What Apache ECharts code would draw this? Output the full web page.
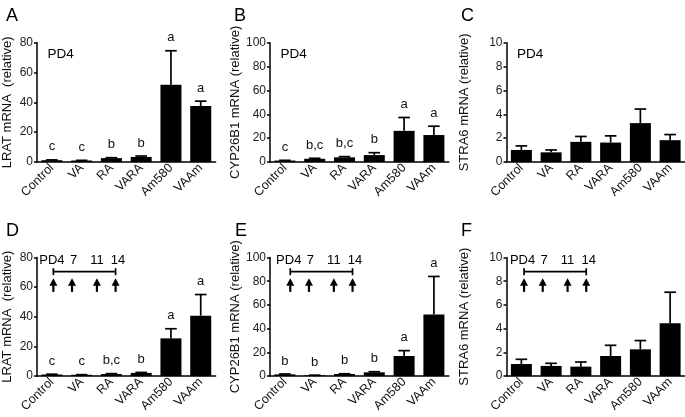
<!DOCTYPE html>
<html>
<head>
<meta charset="utf-8">
<script src="https://cdn.jsdelivr.net/npm/echarts@6/dist/echarts.min.js"></script>
<style>html,body{margin:0;padding:0;background:#fff}#c{width:685px;height:417px}</style>
</head>
<body>
<div id="c"></div>
<script>
const categories = ['Control', 'VA', 'RA', 'VARA', 'Am580', 'VAAm'];
const panelLabels = ['A', 'B', 'C', 'D', 'E', 'F'];
const yTitles = ['LRAT mRNA  (relative)', 'CYP26B1 mRNA (relative)', 'STRA6 mRNA (relative)',
                 'LRAT mRNA  (relative)', 'CYP26B1 mRNA (relative)', 'STRA6 mRNA (relative)'];
const yMax = [80, 100, 10, 80, 100, 10];
const yInterval = [20, 20, 2, 20, 20, 2];

const meanA = [1.2, 1.0, 2.6, 3.4, 51.8, 37.5];
const semA  = [0.2, 0.1, 0.3, 0.6, 22.8, 3.3];
const lettersA = ['c', 'c', 'b', 'b', 'a', 'a'];

const meanB = [1.2, 2.7, 3.9, 5.8, 26.1, 22.6];
const semB  = [0.2, 0.4, 0.6, 2.0, 11.2, 7.4];
const lettersB = ['c', 'b,c', 'b,c', 'b', 'a', 'a'];

const meanC = [1.01, 0.81, 1.69, 1.63, 3.26, 1.83];
const semC  = [0.34, 0.20, 0.45, 0.56, 1.18, 0.47];

const meanD = [1.0, 0.8, 1.3, 2.1, 25.4, 40.7];
const semD  = [0.2, 0.1, 0.3, 0.3, 6.5, 14.3];
const lettersD = ['c', 'c', 'b,c', 'b', 'a', 'a'];

const meanE = [1.4, 0.6, 1.7, 3.1, 16.9, 51.8];
const semE  = [0.3, 0.1, 0.2, 0.5, 4.5, 32.2];
const lettersE = ['b', 'b', 'b', 'b', 'a', 'a'];

const meanF = [1.01, 0.85, 0.79, 1.69, 2.25, 4.45];
const semF  = [0.40, 0.22, 0.39, 0.90, 0.74, 2.62];

const timeDays = [4, 7, 11, 14];
const timeLabels = ['PD4', '7', '11', '14'];
const topNote = 'PD4';

const panels = [
  {mean: meanA, sem: semA, letters: lettersA},
  {mean: meanB, sem: semB, letters: lettersB},
  {mean: meanC, sem: semC, letters: null},
  {mean: meanD, sem: semD, letters: lettersD},
  {mean: meanE, sem: semE, letters: lettersE},
  {mean: meanF, sem: semF, letters: null}
];

// layout
const FONT = "'Liberation Sans', Arial, Helvetica, sans-serif";
const gridLefts = [36.8, 270, 506.5];
const gridTops = [42.7, 257.5];
const gridHeights = [119.3, 118.5];
const gridWidth = 178.8;
const nameGaps = [23, 28, 36, 23, 28, 36];
const titlePos = [[1, 2], [229, 2], [456, 2], [1, 217], [230, 217], [456, 217]];
const timelineStart = [0.55, 0.68, 0.59];
const dayStep = 0.209;
const timeLabelShift = [-1.5, 1.5, 0, 2.5];

const chart = echarts.init(document.getElementById('c'), null, {renderer: 'canvas'});

const grids = [], xAxes = [], yAxes = [], series = [], titles = [];

panels.forEach((p, i) => {
  const col = i % 3, row = Math.floor(i / 3);
  grids.push({left: gridLefts[col], top: gridTops[row], width: gridWidth, height: gridHeights[row], containLabel: false});
  titles.push({text: panelLabels[i], left: titlePos[i][0], top: titlePos[i][1],
    textStyle: {fontFamily: FONT, fontSize: 18, fontWeight: 'normal', color: '#000'}});
  yAxes.push({
    type: 'value', gridIndex: i, min: 0, max: yMax[i], interval: yInterval[i],
    name: yTitles[i], nameLocation: 'middle', nameGap: nameGaps[i],
    nameTextStyle: {fontFamily: FONT, fontSize: 13, color: '#111'},
    axisLine: {show: true, lineStyle: {color: '#000', width: 1.5}},
    axisTick: {show: true, length: 3, lineStyle: {color: '#000', width: 1.5}},
    axisLabel: {fontFamily: FONT, fontSize: 12, color: '#222', margin: 4},
    splitLine: {show: false}
  });
});
panels.forEach((p, i) => {
  xAxes.push({
    type: 'category', gridIndex: i, data: categories,
    axisLine: {show: true, lineStyle: {color: '#000', width: 1.5}},
    axisTick: {show: false},
    axisLabel: {fontFamily: FONT, fontSize: 12.5, color: '#111', rotate: 45, margin: 4, interval: 0}
  });
});
panels.forEach((p, i) => {
  xAxes.push({type: 'value', gridIndex: i, min: 0, max: 6, show: false});
});

function errRender(letters) {
  return function (params, api) {
    const idx = api.value(0), mean = api.value(1), top = api.value(2);
    const pTop = api.coord([idx, top]);
    const pBase = api.coord([idx, mean]);
    const children = [];
    if (top > mean) {
      children.push({type: 'line', shape: {x1: pBase[0], y1: pBase[1], x2: pTop[0], y2: pTop[1]},
        style: {stroke: '#000', lineWidth: 1.7}});
      children.push({type: 'line', shape: {x1: pTop[0] - 5.8, y1: pTop[1], x2: pTop[0] + 5.8, y2: pTop[1]},
        style: {stroke: '#000', lineWidth: 1.7}});
    }
    if (letters) {
      children.push({type: 'text', x: pTop[0], y: pTop[1] - 13,
        style: {text: letters[params.dataIndex], fill: '#111', font: '13px ' + FONT, align: 'center', verticalAlign: 'middle'}});
    }
    return {type: 'group', children: children};
  };
}

function topNoteRender(ymax) {
  return function (params, api) {
    const pt = api.coord([0.35, ymax * 0.905]);
    return {type: 'text', x: pt[0], y: pt[1],
      style: {text: topNote, fill: '#000', font: '13.5px ' + FONT, align: 'left', verticalAlign: 'middle'}};
  };
}

function timelineRender(ymax, start) {
  return function (params, api) {
    const xs = timeDays.map(d => start + (d - timeDays[0]) * dayStep);
    const children = [];
    const b0 = api.coord([xs[0], ymax * 0.88]);
    const b1 = api.coord([xs[xs.length - 1], ymax * 0.88]);
    children.push({type: 'line', shape: {x1: b0[0], y1: b0[1], x2: b1[0], y2: b1[1]}, style: {stroke: '#000', lineWidth: 1.7}});
    children.push({type: 'line', shape: {x1: b0[0], y1: b0[1] - 3.5, x2: b0[0], y2: b0[1] + 3.5}, style: {stroke: '#000', lineWidth: 1.7}});
    children.push({type: 'line', shape: {x1: b1[0], y1: b1[1] - 3.5, x2: b1[0], y2: b1[1] + 3.5}, style: {stroke: '#000', lineWidth: 1.7}});
    xs.forEach((x, k) => {
      const tail = api.coord([x, ymax * 0.71]);
      const head = api.coord([x, ymax * 0.82]);
      children.push({type: 'line', shape: {x1: tail[0], y1: tail[1], x2: head[0], y2: head[1] + 4}, style: {stroke: '#000', lineWidth: 2.2}});
      children.push({type: 'polygon', shape: {points: [[head[0], head[1] - 0.5], [head[0] - 4, head[1] + 7], [head[0] + 4, head[1] + 7]]},
        style: {fill: '#000'}});
      const t = api.coord([x, ymax * 0.975]);
      children.push({type: 'text', x: t[0] + timeLabelShift[k], y: t[1],
        style: {text: timeLabels[k], fill: '#000', font: '13px ' + FONT, align: 'center', verticalAlign: 'middle'}});
    });
    return {type: 'group', children: children};
  };
}

panels.forEach((p, i) => {
  series.push({
    type: 'bar', xAxisIndex: i, yAxisIndex: i, data: p.mean, barWidth: 21,
    itemStyle: {color: '#000'}, silent: true, animation: false
  });
  series.push({
    type: 'custom', xAxisIndex: i, yAxisIndex: i,
    data: p.mean.map((m, k) => [k, m, m + p.sem[k]]),
    renderItem: errRender(p.letters), silent: true, animation: false, z: 5
  });
  const row = Math.floor(i / 3);
  series.push({
    type: 'custom', xAxisIndex: 6 + i, yAxisIndex: i, data: [[0, 0]],
    renderItem: row === 0 ? topNoteRender(yMax[i]) : timelineRender(yMax[i], timelineStart[i % 3]),
    silent: true, animation: false, z: 6
  });
});

chart.setOption({
  animation: false,
  backgroundColor: '#fff',
  title: titles,
  grid: grids,
  xAxis: xAxes,
  yAxis: yAxes,
  series: series
});
</script>
</body>
</html>
